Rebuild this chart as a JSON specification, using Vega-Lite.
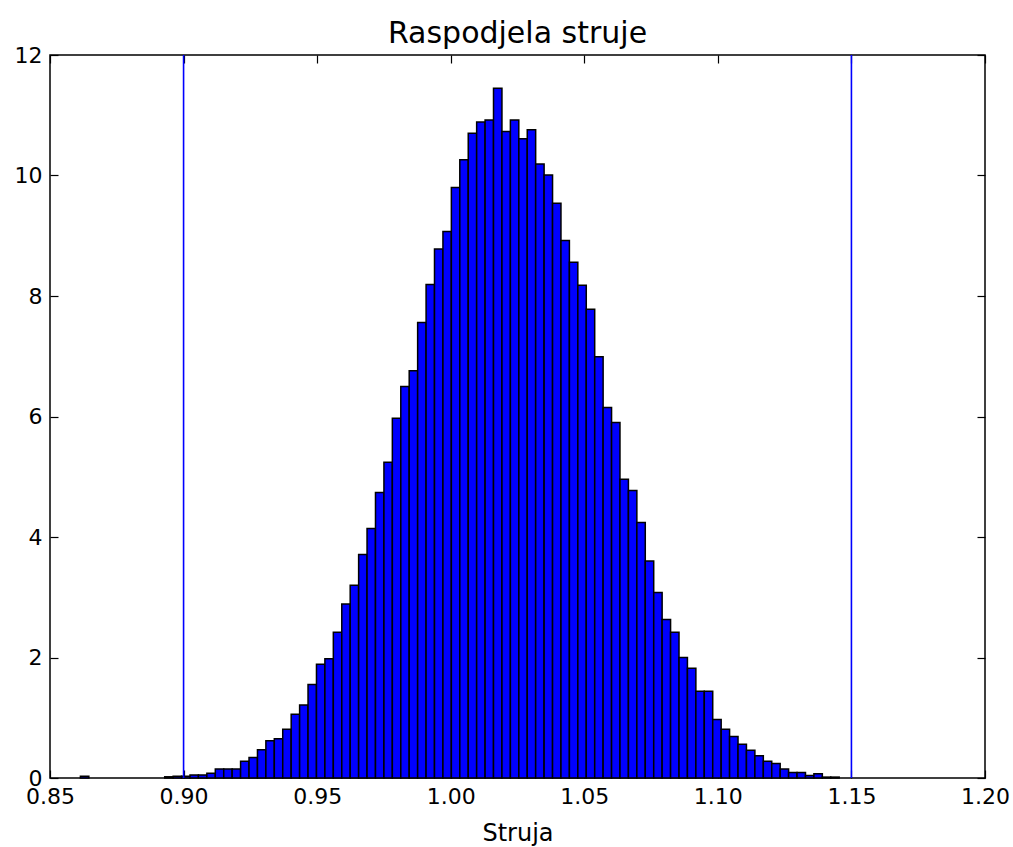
{
  "$schema": "https://vega.github.io/schema/vega-lite/v6.json",
  "width": 935,
  "height": 723,
  "autosize": {"type": "none"},
  "padding": {"left": 50, "top": 55, "right": 28, "bottom": 69},
  "background": "white",
  "title": {"text": "Raspodjela struje", "font": "DejaVu Sans", "fontSize": 30, "fontWeight": "normal", "color": "black", "offset": -5, "anchor": "middle"},
  "config": {
    "view": {"stroke": "black", "strokeWidth": 1.5},
    "axis": {"grid": false, "domain": false, "tickColor": "black", "tickWidth": 1.2, "labelFont": "DejaVu Sans", "labelFontSize": 22, "labelColor": "black", "titleFont": "DejaVu Sans", "titleFontSize": 24, "titleFontWeight": "normal", "titleColor": "black", "labelFlush": false}
  },
  "datasets": {
    "bins": [
      {"x0":0.86138,"x1":0.86454,"h":0.03},
      {"x0":0.89294,"x1":0.89610,"h":0.02},
      {"x0":0.89610,"x1":0.89925,"h":0.03},
      {"x0":0.89925,"x1":0.90241,"h":0.03},
      {"x0":0.90241,"x1":0.90556,"h":0.05},
      {"x0":0.90556,"x1":0.90872,"h":0.05},
      {"x0":0.90872,"x1":0.91188,"h":0.08},
      {"x0":0.91188,"x1":0.91503,"h":0.15},
      {"x0":0.91503,"x1":0.91819,"h":0.15},
      {"x0":0.91819,"x1":0.92134,"h":0.15},
      {"x0":0.92134,"x1":0.92450,"h":0.28},
      {"x0":0.92450,"x1":0.92766,"h":0.34},
      {"x0":0.92766,"x1":0.93081,"h":0.47},
      {"x0":0.93081,"x1":0.93397,"h":0.62},
      {"x0":0.93397,"x1":0.93712,"h":0.65},
      {"x0":0.93712,"x1":0.94028,"h":0.81},
      {"x0":0.94028,"x1":0.94344,"h":1.06},
      {"x0":0.94344,"x1":0.94659,"h":1.21},
      {"x0":0.94659,"x1":0.94975,"h":1.55},
      {"x0":0.94975,"x1":0.95290,"h":1.89},
      {"x0":0.95290,"x1":0.95606,"h":1.98},
      {"x0":0.95606,"x1":0.95922,"h":2.42},
      {"x0":0.95922,"x1":0.96237,"h":2.89},
      {"x0":0.96237,"x1":0.96553,"h":3.20},
      {"x0":0.96553,"x1":0.96868,"h":3.71},
      {"x0":0.96868,"x1":0.97184,"h":4.14},
      {"x0":0.97184,"x1":0.97500,"h":4.74},
      {"x0":0.97500,"x1":0.97815,"h":5.24},
      {"x0":0.97815,"x1":0.98131,"h":5.97},
      {"x0":0.98131,"x1":0.98446,"h":6.50},
      {"x0":0.98446,"x1":0.98762,"h":6.76},
      {"x0":0.98762,"x1":0.99078,"h":7.56},
      {"x0":0.99078,"x1":0.99393,"h":8.19},
      {"x0":0.99393,"x1":0.99709,"h":8.78},
      {"x0":0.99709,"x1":1.00024,"h":9.07},
      {"x0":1.00024,"x1":1.00340,"h":9.80},
      {"x0":1.00340,"x1":1.00656,"h":10.26},
      {"x0":1.00656,"x1":1.00971,"h":10.70},
      {"x0":1.00971,"x1":1.01287,"h":10.89},
      {"x0":1.01287,"x1":1.01602,"h":10.92},
      {"x0":1.01602,"x1":1.01918,"h":11.45},
      {"x0":1.01918,"x1":1.02234,"h":10.73},
      {"x0":1.02234,"x1":1.02549,"h":10.92},
      {"x0":1.02549,"x1":1.02865,"h":10.61},
      {"x0":1.02865,"x1":1.03180,"h":10.76},
      {"x0":1.03180,"x1":1.03496,"h":10.19},
      {"x0":1.03496,"x1":1.03812,"h":10.01},
      {"x0":1.03812,"x1":1.04127,"h":9.54},
      {"x0":1.04127,"x1":1.04443,"h":8.92},
      {"x0":1.04443,"x1":1.04758,"h":8.56},
      {"x0":1.04758,"x1":1.05074,"h":8.18},
      {"x0":1.05074,"x1":1.05390,"h":7.78},
      {"x0":1.05390,"x1":1.05705,"h":6.99},
      {"x0":1.05705,"x1":1.06021,"h":6.15},
      {"x0":1.06021,"x1":1.06336,"h":5.90},
      {"x0":1.06336,"x1":1.06652,"h":4.96},
      {"x0":1.06652,"x1":1.06968,"h":4.77},
      {"x0":1.06968,"x1":1.07283,"h":4.24},
      {"x0":1.07283,"x1":1.07599,"h":3.60},
      {"x0":1.07599,"x1":1.07914,"h":3.08},
      {"x0":1.07914,"x1":1.08230,"h":2.63},
      {"x0":1.08230,"x1":1.08546,"h":2.42},
      {"x0":1.08546,"x1":1.08861,"h":2.00},
      {"x0":1.08861,"x1":1.09177,"h":1.82},
      {"x0":1.09177,"x1":1.09492,"h":1.44},
      {"x0":1.09492,"x1":1.09808,"h":1.44},
      {"x0":1.09808,"x1":1.10124,"h":0.97},
      {"x0":1.10124,"x1":1.10439,"h":0.81},
      {"x0":1.10439,"x1":1.10755,"h":0.69},
      {"x0":1.10755,"x1":1.11070,"h":0.56},
      {"x0":1.11070,"x1":1.11386,"h":0.46},
      {"x0":1.11386,"x1":1.11702,"h":0.37},
      {"x0":1.11702,"x1":1.12017,"h":0.28},
      {"x0":1.12017,"x1":1.12333,"h":0.24},
      {"x0":1.12333,"x1":1.12648,"h":0.15},
      {"x0":1.12648,"x1":1.12964,"h":0.09},
      {"x0":1.12964,"x1":1.13280,"h":0.09},
      {"x0":1.13280,"x1":1.13595,"h":0.04},
      {"x0":1.13595,"x1":1.13911,"h":0.07},
      {"x0":1.13911,"x1":1.14226,"h":0.015},
      {"x0":1.14226,"x1":1.14542,"h":0.015}
    ],
    "lines": [{"v": 0.9}, {"v": 1.15}]
  },
  "layer": [
    {
      "data": {"name": "bins"},
      "mark": {"type": "rect", "fill": "#0000ff", "stroke": "black", "strokeWidth": 1.5},
      "encoding": {
        "x": {"field": "x0", "type": "quantitative", "scale": {"domain": [0.85, 1.2], "nice": false, "zero": false},
              "axis": {"orient": "bottom", "values": [0.85, 0.9, 0.95, 1.0, 1.05, 1.1, 1.15, 1.2], "format": ".2f", "tickSize": -8, "labelPadding": 16, "labelFlush": false, "title": "Struja", "titlePadding": 14}},
        "x2": {"field": "x1"},
        "y": {"field": "h", "type": "quantitative", "scale": {"domain": [0, 12], "nice": false},
              "axis": {"orient": "left", "values": [0, 2, 4, 6, 8, 10, 12], "tickSize": -8, "labelPadding": 16, "labelFlush": false, "title": null}},
        "y2": {"datum": 0}
      }
    },
    {
      "data": {"name": "lines"},
      "mark": {"type": "rule", "color": "#0000ff", "strokeWidth": 1.6},
      "encoding": {
        "x": {"field": "v", "type": "quantitative",
              "axis": {"orient": "top", "values": [0.85, 0.9, 0.95, 1.0, 1.05, 1.1, 1.15, 1.2], "labels": false, "tickSize": -8, "title": null}}
      }
    },
    {
      "data": {"name": "bins"},
      "mark": {"type": "point", "opacity": 0},
      "encoding": {
        "x": {"field": "x0", "type": "quantitative", "axis": null},
        "y": {"field": "h", "type": "quantitative",
              "axis": {"orient": "right", "values": [0, 2, 4, 6, 8, 10, 12], "labels": false, "tickSize": -8, "title": null}}
      }
    }
  ],
  "resolve": {"axis": {"x": "independent", "y": "independent"}}
}
